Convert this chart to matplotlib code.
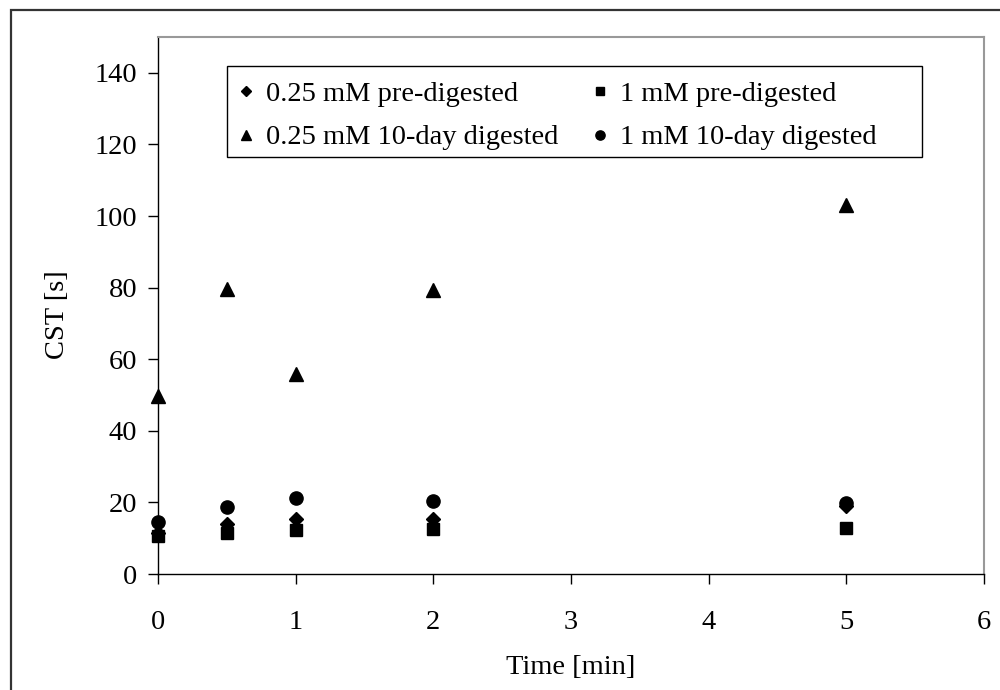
import matplotlib
matplotlib.use("Agg")
import matplotlib.pyplot as plt
from matplotlib.patches import Rectangle

plt.rcParams["font.family"] = ["Liberation Serif", "DejaVu Serif"]

# data
time_min = [0, 0.5, 1, 2, 5]
pre_025 = [11.5, 14, 15.5, 15.5, 19]
pre_1 = [10.6, 11.4, 12.3, 12.5, 12.8]
ten_day_025 = [49.6, 79.6, 56, 79.2, 103]
ten_day_1 = [14.6, 18.6, 21.1, 20.5, 19.8]

labels = ["0.25 mM pre-digested", "1 mM pre-digested",
          "0.25 mM 10-day digested", "1 mM 10-day digested"]

W, H = 1000, 690
fig = plt.figure(figsize=(W / 100, H / 100), dpi=100)
# outer chart frame (cut off at right and bottom as in the source)
fig.patches.append(Rectangle((11 / W, -0.2), 1.5, 1.2 - 10 / H, transform=fig.transFigure,
                             fill=False, edgecolor="#333333", lw=1.6, zorder=0))

ax = fig.add_axes([158 / W, 1 - 574 / H, (984 - 158) / W, (574 - 37) / H])

h_d, = ax.plot(time_min, pre_025, "D", color="black", ms=7, ls="none", zorder=3)
h_s, = ax.plot(time_min, pre_1, "s", color="black", ms=8.5, ls="none", zorder=3)
h_t, = ax.plot(time_min, ten_day_025, "^", color="black", ms=10.5, ls="none", zorder=3)
h_c, = ax.plot(time_min, ten_day_1, "o", color="black", ms=9.5, ls="none", zorder=3)
for h in (h_d, h_s, h_t, h_c):
    h.set_clip_on(False)

ax.set_xlim(0, 6)
ax.set_ylim(0, 150)
ax.set_xticks(range(0, 7))
ax.set_yticks(range(0, 141, 20))
ax.tick_params(direction="out", length=7, width=1, labelsize=20.5, pad=8, color="black")
ax.tick_params(axis="x", pad=19)
for side in ("top", "right"):
    ax.spines[side].set_color("#999999")
    ax.spines[side].set_linewidth(1.5)
for side in ("left", "bottom"):
    ax.spines[side].set_color("black")
    ax.spines[side].set_linewidth(1)

ax.set_xlabel("Time [min]", fontsize=20.5)
ax.set_ylabel("CST [s]", fontsize=20.5)
ax.xaxis.set_label_coords(0.5, (574 - 655) / 537)
ax.yaxis.set_label_coords((70 - 158) / 826, (574 - 315) / 537)

# legend box is wider than its content in the source, so draw the frame separately
fig.patches.append(Rectangle((227 / W, 1 - 157 / H), (922 - 227) / W, (157 - 66) / H,
                             transform=fig.transFigure, fill=False, edgecolor="black",
                             lw=1, zorder=4))
# column-first fill in matplotlib, so order handles to get the row layout
leg = ax.legend([h_d, h_t, h_s, h_c], [labels[0], labels[2], labels[1], labels[3]],
                ncol=2, loc="upper left", bbox_to_anchor=(227 / W, 1 - 69 / H),
                bbox_transform=fig.transFigure, fontsize=20.5, frameon=False,
                handlelength=0.5, handletextpad=0.45,
                columnspacing=1.2, labelspacing=0.62, borderpad=0.42, markerscale=0.7,
                borderaxespad=0)

fig.savefig("out.png", dpi=100)
